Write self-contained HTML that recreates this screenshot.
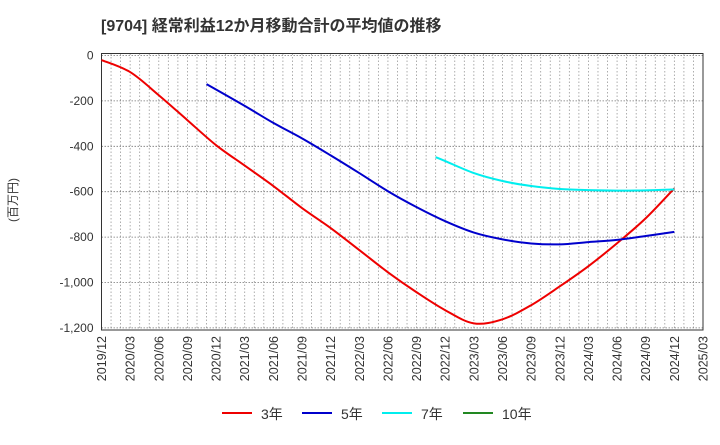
<!DOCTYPE html>
<html><head><meta charset="utf-8"><style>
body{margin:0;background:#fff;font-family:"Liberation Sans","Noto Sans CJK JP",sans-serif}
svg text{font-family:"Liberation Sans","Noto Sans CJK JP",sans-serif}
</style></head><body>
<svg id="c" width="720" height="440" xmlns="http://www.w3.org/2000/svg">
<text x="101" y="31" font-size="16" font-weight="bold" fill="#333">[9704]  経常利益12か月移動合計の平均値の推移</text>
<text transform="translate(17,200) rotate(-90)" text-anchor="middle" font-size="12" fill="#333">(百万円)</text>
<g id="grid"></g><g id="axes"></g><g id="series"></g><g id="legend"></g>
</svg>
<script>
const xTicks=["2019/12","2020/03","2020/06","2020/09","2020/12","2021/03","2021/06","2021/09","2021/12","2022/03","2022/06","2022/09","2022/12","2023/03","2023/06","2023/09","2023/12","2024/03","2024/06","2024/09","2024/12","2025/03"];
const yTicks=[0,-200,-400,-600,-800,-1000,-1200];
const yTickLabels=["0","-200","-400","-600","-800","-1,000","-1,200"];
const months3=[0,3,6,9,12,15,18,21,24,27,30,33,36,39,42,45,48,51,54,57,60];
const vals3=[-20,-73,-175,-285,-395,-485,-575,-672,-760,-857,-955,-1043,-1122,-1180,-1162,-1100,-1017,-928,-827,-717,-585];
const months5=[11,15,18,21,24,27,30,33,36,39,42,45,48,51,54,57,60];
const vals5=[-126,-222,-297,-365,-440,-518,-598,-668,-730,-780,-810,-828,-832,-822,-812,-795,-777];
const months7=[35,36,39,42,45,48,51,54,57,60];
const vals7=[-448,-465,-518,-553,-575,-588,-593,-595,-594,-590];
const months10=[];
const vals10=[];
const X0=101.5,X1=703,Y0=53.5,Y1=330;
const xs=m=>X0+(X1-X0)*m/63;
const ys=v=>55.5+(-v)/200*45.4;
const NS="http://www.w3.org/2000/svg";
function mk(t,a,p){const e=document.createElementNS(NS,t);for(const k in a)e.setAttribute(k,a[k]);p.appendChild(e);return e;}
const g=document.getElementById('grid'),ax=document.getElementById('axes'),sr=document.getElementById('series'),lg=document.getElementById('legend');
for(let m=1;m<63;m++){const l=mk('line',{x1:xs(m),x2:xs(m),y1:Y0,y2:Y1,stroke:'#999','stroke-width':0.8,'stroke-dasharray':'1.5,2'},g);

}
yTicks.forEach((v,i)=>{const l=mk('line',{x1:X0,x2:X1,y1:ys(v),y2:ys(v),stroke:'#777','stroke-width':0.8,'stroke-dasharray':'1.5,1.5'},g);


const t=mk('text',{x:X0-8,y:ys(v)+4,'text-anchor':'end','font-size':12,fill:'#333'},ax);t.textContent=yTickLabels[i];

});
xTicks.forEach((s,i)=>{const x=xs(i*3);const t=mk('text',{transform:`translate(${x+4.5},${Y1+6}) rotate(-90)`,'text-anchor':'end','font-size':12.5,fill:'#333'},ax);t.textContent=s;

});
const fr=mk('rect',{x:X0,y:Y0,width:X1-X0,height:Y1-Y0,fill:'none',stroke:'#333','stroke-width':1},ax);


function path(ms,vs){const p=ms.map((m,i)=>[xs(m),ys(vs[i])]);if(!p.length)return'';let d=`M${p[0][0]},${p[0][1]}`;
for(let i=0;i<p.length-1;i++){const a=p[i-1]||p[i],b=p[i],c=p[i+1],e=p[i+2]||c;
d+=` C${b[0]+(c[0]-a[0])/6},${b[1]+(c[1]-a[1])/6} ${c[0]-(e[0]-b[0])/6},${c[1]-(e[1]-b[1])/6} ${c[0]},${c[1]}`;}return d;}
[[months3,vals3,'#e00','line-3y'],[months5,vals5,'#00c','line-5y'],[months7,vals7,'#0ee','line-7y'],[months10,vals10,'#282','line-10y']].forEach(([m,v,c,n])=>{
if(!m.length)return;const p=mk('path',{d:path(m,v),fill:'none',stroke:c,'stroke-width':2},sr);

});
[['3年','#e00',222],['5年','#00c',302],['7年','#0ee',382],['10年','#282',463]].forEach(([t,c,x])=>{
const l=mk('line',{x1:x,x2:x+30,y1:413,y2:413,stroke:c,'stroke-width':2},lg);


const tx=mk('text',{x:x+39,y:419,'font-size':14,fill:'#333'},lg);tx.textContent=t;

});
</script>
</body></html>
